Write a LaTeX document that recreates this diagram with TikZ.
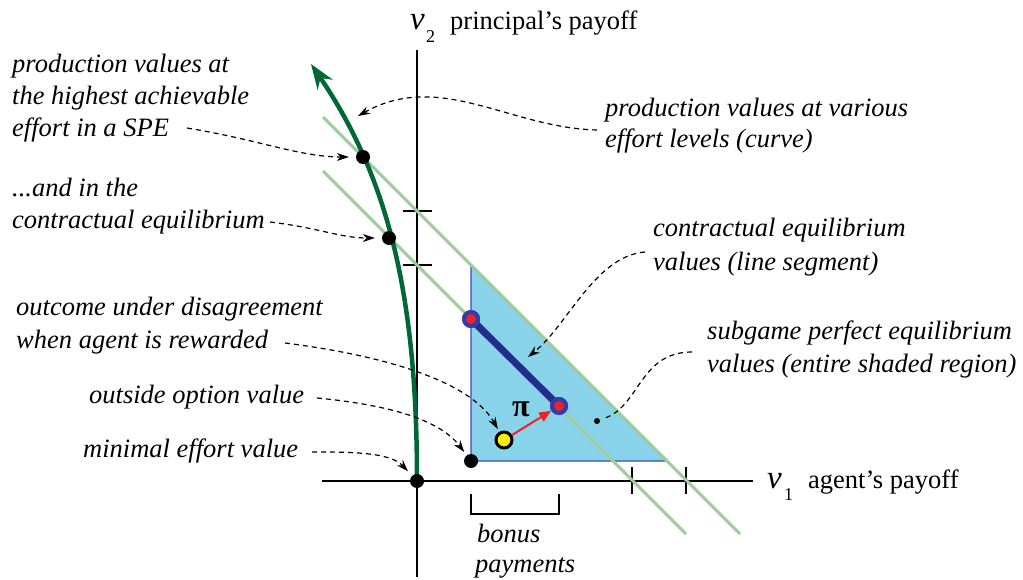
\documentclass[tikz,border=0pt]{standalone}
\usepackage{fontspec}
\setmainfont{Liberation Serif}
\usetikzlibrary{arrows.meta}
\definecolor{dkgreen}{RGB}{0,104,55}
\definecolor{ltgreen}{RGB}{158,204,158}
\definecolor{trifill}{RGB}{137,211,234}
\definecolor{triedge}{RGB}{60,70,190}
\definecolor{segblue}{RGB}{35,45,140}
\definecolor{ringblue}{RGB}{50,60,170}
\definecolor{arrred}{RGB}{235,35,40}
\definecolor{dotyellow}{RGB}{255,238,0}
\begin{document}
\begin{tikzpicture}[x=1pt,y=-1pt,
  lbl/.style={anchor=base west,inner sep=0pt,font=\fontsize{26.5}{32}\selectfont\itshape},
  axlbl/.style={anchor=base west,inner sep=0pt,font=\fontsize{26.5}{32}\selectfont},
  varlbl/.style={anchor=base west,inner sep=0pt,font=\fontsize{33}{33}\selectfont\itshape},
  sublbl/.style={anchor=base west,inner sep=0pt,font=\fontsize{18}{18}\selectfont},
  axisline/.style={line width=2.4pt},
  tickmark/.style={line width=2.4pt},
  budget/.style={ltgreen,line width=3pt},
  bigdot/.style={circle,fill=black,inner sep=0pt,minimum size=14pt},
  ringdot/.style={circle,fill=ringblue,inner sep=0pt,minimum size=18pt},
  ptr/.style={dash pattern=on 5pt off 4pt,line width=1.2pt,-{Stealth[length=12pt,width=8pt]}},
  ptrplain/.style={dash pattern=on 5pt off 4pt,line width=1.2pt},
]
\useasboundingbox (0,0) rectangle (1023,580);

% shaded region
\filldraw[fill=trifill,draw=triedge,line width=1.2pt] (471,265) -- (471,461) -- (667,461) -- cycle;

% axes
\coordinate (xl) at (322,481);
\coordinate (xr) at (753,481);
\coordinate (yt) at (417,50);
\coordinate (yb) at (417,577);
\draw[axisline] (xl) -- (xr);
\draw[axisline] (yb) -- (yt);

% ticks
\coordinate (ta1) at (403,211); \coordinate (ta2) at (432,211);
\coordinate (tb1) at (403,265); \coordinate (tb2) at (432,265);
\coordinate (tc1) at (632,467); \coordinate (tc2) at (632,494);
\coordinate (td1) at (686,467); \coordinate (td2) at (686,494);
\draw[tickmark] (ta1) -- (ta2);
\draw[tickmark] (tb1) -- (tb2);
\draw[tickmark] (tc1) -- (tc2);
\draw[tickmark] (td1) -- (td2);

% iso-payoff lines
\coordinate (ua) at (323,117); \coordinate (ub) at (740,534);
\coordinate (la) at (323,171); \coordinate (lb) at (686,534);
\draw[budget] (ua) -- (ub);
\draw[budget] (la) -- (lb);

% bonus bracket
\coordinate (br1) at (471,494); \coordinate (br2) at (471,514);
\coordinate (br3) at (559,514); \coordinate (br4) at (559,494);
\draw[line width=2.4pt] (br1) -- (br2) -- (br3) -- (br4);

% production curve
\coordinate (c0) at (417,481);
\coordinate (ctip) at (311,64);
\draw[dkgreen,line width=4.5pt,-{Stealth[length=25pt,width=18pt]}] (c0) .. controls (417,300) and (390,180) .. (ctip);

% contractual segment
\node[ringdot] (e1) at (471,319) {};
\node[ringdot] (e2) at (559,406) {};
\draw[segblue,line width=7pt] (e1.center) -- (e2.center);
\node[ringdot] at (e1) {};
\node[ringdot] at (e2) {};
\fill[arrred] (e1) circle (5pt);
\fill[arrred] (e2) circle (5pt);

% dots
\node[bigdot] (o) at (417,481) {};
\node[bigdot] (d1) at (363,157) {};
\node[bigdot] (d2) at (389,238) {};
\node[bigdot] (oo) at (471,461) {};
\node[circle,fill=black,inner sep=0pt,minimum size=6pt] (sd) at (597,421) {};
\node[circle,fill=dotyellow,draw=black,line width=3pt,inner sep=0pt,minimum size=16pt] (yd) at (504,440) {};

% red arrow
\draw[arrred,line width=2pt,-{Triangle[length=12pt,width=10pt]}] (yd) -- (e2);
\node[inner sep=0pt,font=\fontsize{32}{32}\selectfont\bfseries] (pi) at (521,409) {π};

% labels
\node[varlbl] (v2) at (410,30) {v};
\node[sublbl] (v2s) at (426,43) {2};
\node[axlbl] (v2t) at (450,30) {principal's payoff};
\node[varlbl] (v1) at (767,488) {v};
\node[sublbl] (v1s) at (784,500) {1};
\node[axlbl] (v1t) at (808,488) {agent's payoff};

\node[lbl] (t1a) at (12,73) {production values at};
\node[lbl] (t1b) at (12,105) {the highest achievable};
\node[lbl] (t1c) at (12,137) {effort in a SPE};
\node[lbl] (t2a) at (12,197) {...and in the};
\node[lbl] (t2b) at (12,229) {contractual equilibrium};
\node[lbl] (t3a) at (605,117) {production values at various};
\node[lbl] (t3b) at (605,148) {effort levels (curve)};
\node[lbl] (t4a) at (653,237) {contractual equilibrium};
\node[lbl] (t4b) at (653,270) {values (line segment)};
\node[lbl] (t5a) at (707,339) {subgame perfect equilibrium};
\node[lbl] (t5b) at (707,372) {values (entire shaded region)};
\node[lbl] (t6a) at (16,316) {outcome under disagreement};
\node[lbl] (t6b) at (16,348) {when agent is rewarded};
\node[lbl] (t7) at (89,403) {outside option value};
\node[lbl] (t8) at (83,457) {minimal effort value};
\node[lbl] (t9a) at (477,542) {bonus};
\node[lbl] (t9b) at (475,572) {payments};

% pointers
\coordinate (s1) at (597,130); \coordinate (a1) at (358,116);
\draw[ptr] (s1) .. controls (510,128) and (440,70) .. (a1);
\coordinate (s2) at (187,128);
\draw[ptr,shorten >=7pt] (s2) .. controls (260,140) and (300,157) .. (d1);
\coordinate (s3) at (270,222);
\draw[ptr,shorten >=7pt] (s3) .. controls (320,228) and (340,238) .. (d2);
\coordinate (s4) at (645,252); \coordinate (a4) at (528,357);
\draw[ptr] (s4) .. controls (595,256) and (568,325) .. (a4);
\coordinate (s5) at (692,352);
\draw[ptrplain,shorten >=6pt] (s5) .. controls (640,352) and (640,405) .. (sd);
\coordinate (s6) at (285,343);
\draw[ptr,shorten >=3pt] (s6) .. controls (380,355) and (470,380) .. (yd);
\coordinate (s7) at (317,398);
\draw[ptr,shorten >=4pt] (s7) .. controls (390,405) and (440,420) .. (oo);
\coordinate (s8) at (312,452);
\draw[ptr,shorten >=6pt] (s8) .. controls (350,452) and (390,452) .. (o);
\end{tikzpicture}
\end{document}
